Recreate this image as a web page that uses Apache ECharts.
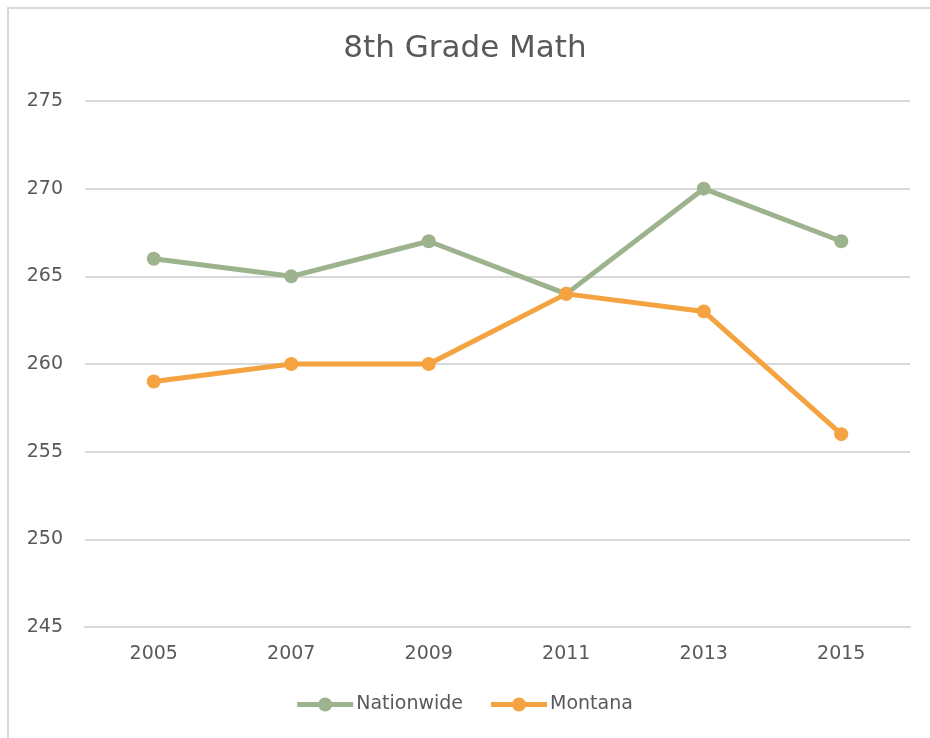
<!DOCTYPE html>
<html>
<head>
<meta charset="utf-8">
<script src="https://cdn.jsdelivr.net/npm/echarts@6/dist/echarts.min.js"></script>
<style>
  html, body { margin: 0; padding: 0; background: #fff; }
  #chart { width: 930px; height: 738px; }
</style>
</head>
<body>
<div id="chart"></div>
<script>
// values
const years = ['2005', '2007', '2009', '2011', '2013', '2015']
const nationwide = [266, 265, 267, 264, 270, 267]
const montana = [259, 260, 260, 264, 263, 256]

const textColor = '#595959'
const font = '"DejaVu Sans", Verdana, sans-serif'
// legend marker: thick line with a dot in the middle
const legendIcon = 'path://M0,5.5L21.6,5.5L21.6,10.5L0,10.5Z' +
  'M34.4,5.5L56,5.5L56,10.5L34.4,10.5Z' +
  'M21,8A7,7,0,1,1,35,8A7,7,0,1,1,21,8Z'

const chart = echarts.init(document.getElementById('chart'))
chart.setOption({
  animation: false,
  title: {
    text: '8th Grade Math',
    left: 'center',
    top: 28,
    textStyle: { fontSize: 31, fontWeight: 'normal', color: textColor, fontFamily: font }
  },
  // chart-area frame, only left and top edges are inside the picture
  graphic: [{
    type: 'polyline',
    shape: { points: [[8, 760], [8, 8], [960, 8]] },
    style: { fill: 'none', stroke: '#d9d9d9', lineWidth: 2 },
    silent: true
  }],
  legend: {
    bottom: 19,
    left: 'center',
    itemWidth: 56,
    itemHeight: 14,
    itemGap: 28,
    icon: legendIcon,
    textStyle: { fontSize: 19, color: textColor, fontFamily: font, padding: [0, 0, 0, -2] }
  },
  grid: { left: 85, right: 20, top: 101, bottom: 111 },
  xAxis: {
    type: 'category',
    data: years,
    axisTick: { show: false },
    axisLine: { lineStyle: { color: '#d9d9d9', width: 2 } },
    axisLabel: { color: textColor, fontSize: 19, margin: 18, fontFamily: font }
  },
  yAxis: {
    type: 'value',
    min: 245,
    max: 275,
    interval: 5,
    axisLine: { show: false },
    axisTick: { show: false },
    splitLine: { lineStyle: { color: '#d9d9d9', width: 2 } },
    axisLabel: { color: textColor, fontSize: 19, margin: 22, fontFamily: font }
  },
  series: [{
    name: 'Nationwide',
    type: 'line',
    data: nationwide,
    symbol: 'circle',
    symbolSize: 14,
    color: '#9db38d',
    lineStyle: { width: 5 }
  }, {
    name: 'Montana',
    type: 'line',
    data: montana,
    symbol: 'circle',
    symbolSize: 14,
    color: '#f4a340',
    lineStyle: { width: 5 }
  }]
})
</script>
</body>
</html>
